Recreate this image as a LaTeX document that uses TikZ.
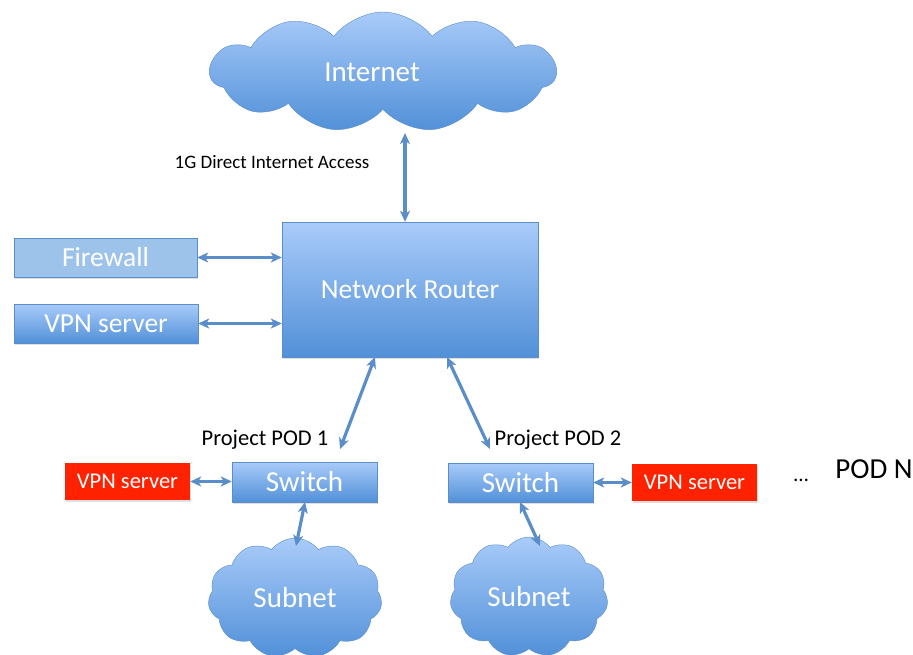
\documentclass[tikz,border=0pt]{standalone}
\usepackage{fontspec}
\setmainfont{Carlito}
\usepackage{tikz}
\usetikzlibrary{arrows.meta,positioning,shapes.symbols,shadows}
\definecolor{NetTop}{HTML}{A9CBF9}
\definecolor{NetBottom}{HTML}{5190D8}
\definecolor{NetEdge}{HTML}{5B8DC8}
\definecolor{NetFlat}{HTML}{9DC3EA}
\definecolor{PodRed}{HTML}{FF2200}

\begin{document}
\begin{tikzpicture}[
  x=1pt, y=-1pt,
  box/.style={draw=NetEdge, thin, top color=NetTop, bottom color=NetBottom, text=white,
    inner sep=0pt, align=center, font=\fontsize{27.5}{31}\selectfont,
    drop shadow={opacity=0.25, shadow xshift=1pt, shadow yshift=-2pt}},
  flatbox/.style={box, top color=NetFlat, bottom color=NetFlat},
  vpnbox/.style={fill=PodRed, text=white, inner sep=0pt, font=\fontsize{22.5}{26}\selectfont,
    minimum width=125pt, minimum height=37pt,
    drop shadow={opacity=0.25, shadow xshift=1pt, shadow yshift=-2pt}},
  cloudy/.style={cloud, cloud puffs=11, cloud puff arc=105, cloud ignores aspect, draw=NetEdge, thin,
    top color=NetTop, bottom color=NetBottom, text=white, inner sep=0pt,
    font=\fontsize{29}{33}\selectfont},
  podlabel/.style={font=\fontsize{22.5}{26}\selectfont, inner sep=0pt},
  link/.style={{Stealth[length=11pt,width=10pt,inset=3pt]}-{Stealth[length=11pt,width=10pt,inset=3pt]},
    line width=3.2pt, NetEdge}
]
  \useasboundingbox (0,0) rectangle (913,654);

  % core
  \node[cloudy, minimum width=346pt, minimum height=120pt] (internet) at (383,72) {};
  \node[text=white, font=\fontsize{29}{33}\selectfont] (inettext) at (372,72) {Internet};
  \node[box, minimum width=256pt, minimum height=135pt] (router) at (410,289.5) {Network Router};
  \node[flatbox, minimum width=183pt, minimum height=39pt] (firewall) at (105.5,257.5) {Firewall};
  \node[box, minimum width=184pt, minimum height=39pt] (vpn) at (106,323.5) {VPN server};
  \node[font=\fontsize{19}{22}\selectfont, inner sep=0pt] (dia) at (272,162) {1G Direct Internet Access};

  % pods
  \node[box, minimum width=145pt, minimum height=40pt, font=\fontsize{29}{33}\selectfont] (switchA) at (304.5,482) {Switch};
  \node[box, minimum width=145pt, minimum height=39pt, font=\fontsize{29}{33}\selectfont] (switchB) at (520.5,482.5) {Switch};
  \node[vpnbox] (vpnA) at (127.5,481.5) {VPN server};
  \node[vpnbox] (vpnB) at (694.5,482.5) {VPN server};
  \node[podlabel] (podA) at (265,440) {Project POD 1};
  \node[podlabel] (podB) at (558,440) {Project POD 2};
  \node[cloudy, minimum width=174pt, minimum height=120pt] (subnetA) at (295,598) {Subnet};
  \node[cloudy, minimum width=158pt, minimum height=120pt] (subnetB) at (529,597) {Subnet};
  \node[font=\fontsize{21}{24}\selectfont, inner sep=0pt] (dots) at (801,480) {\dots};
  \node[font=\fontsize{29}{33}\selectfont, inner sep=0pt] (podN) at (874,469) {POD N};

  % link ends
  \coordinate (inetLow) at (405,133);
  \coordinate (rA) at (375,357);
  \coordinate (rB) at (447,357);
  \coordinate (sA) at (340,449);
  \coordinate (sB) at (490,449);
  \coordinate (swA) at (305,502);
  \coordinate (swB) at (520,502);
  \coordinate (cA) at (296,546);
  \coordinate (cB) at (540,546);

  % links
  \draw[link] (inetLow) -- (router.north -| inetLow);
  \draw[link] (firewall.east) -- (router.west |- firewall.east);
  \draw[link] (vpn.east) -- (router.west |- vpn.east);
  \draw[link] (rA) -- (sA);
  \draw[link] (rB) -- (sB);
  \draw[link] (vpnA.east) -- (switchA.west |- vpnA.east);
  \draw[link] (switchB.east |- vpnB.west) -- (vpnB.west);
  \draw[link] (swA) -- (cA);
  \draw[link] (swB) -- (cB);
\end{tikzpicture}
\end{document}
